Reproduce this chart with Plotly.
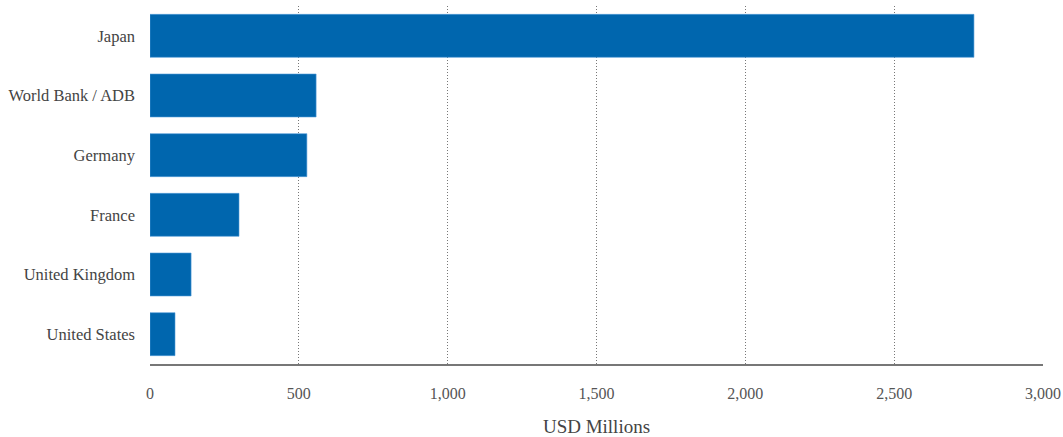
import plotly.graph_objects as go

categories = ["Japan", "World Bank / ADB", "Germany", "France", "United Kingdom", "United States"]
values = [2768, 558, 527, 299, 138, 84]
tick_vals = [0, 500, 1000, 1500, 2000, 2500, 3000]
tick_text = ["0", "500", "1,000", "1,500", "2,000", "2,500", "3,000"]

fig = go.Figure(go.Bar(
    x=values, y=categories, orientation="h",
    marker=dict(color="#0066AE", line=dict(color="#4f9ad6", width=0.6)),
))

font_family = "Liberation Serif, serif"
fig.update_layout(
    width=1063, height=437,
    margin=dict(l=150, r=20, t=6, b=73),
    paper_bgcolor="white", plot_bgcolor="white",
    bargap=0.28,
    showlegend=False,
    font=dict(family=font_family, size=16, color="#444"),
)
fig.update_xaxes(
    range=[0, 3000], tickvals=tick_vals, ticktext=tick_text,
    showgrid=True, gridcolor="#777", griddash="1px,2px", gridwidth=1,
    showline=True, linecolor="#777", linewidth=1.5,
    zeroline=False, ticks="", ticklabelstandoff=14, automargin=False,
    title=dict(text="USD Millions", font=dict(size=19, color="#444"), standoff=20),
    tickfont=dict(size=16, color="#555"),
)
fig.update_yaxes(
    categoryorder="array", categoryarray=categories[::-1],
    showgrid=False, showline=False, ticks="", ticklabelstandoff=14, automargin=False,
    tickfont=dict(size=16.5, color="#444"),
)
fig.write_html(
    "out.html",
    config={"displayModeBar": False},
    post_script="document.body.style.margin='0px';document.body.style.overflow='hidden';",
)
